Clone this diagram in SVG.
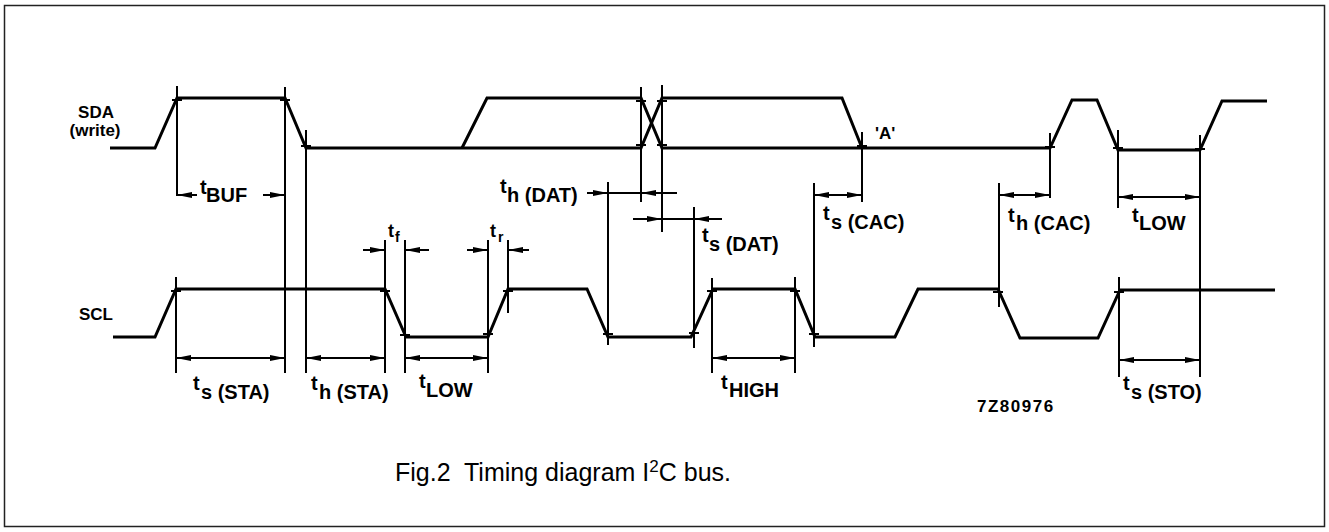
<svg xmlns="http://www.w3.org/2000/svg" width="1329" height="532" viewBox="0 0 1329 532">
<style>
.wave{fill:none;stroke:#000;stroke-width:3;stroke-linejoin:miter}
.dim{fill:none;stroke:#000;stroke-width:2}
.tick{fill:none;stroke:#000;stroke-width:2}
.lbl{font-family:"Liberation Sans",Arial,sans-serif;font-weight:bold;font-size:20px;fill:#000}
.sig{font-family:"Liberation Sans",Arial,sans-serif;font-weight:bold;font-size:17px;fill:#000}
.cap{font-family:"Liberation Sans",Arial,sans-serif;font-size:25px;fill:#000;white-space:pre}
</style>
<defs>
<marker id="ah" viewBox="0 0 15 6" refX="15" refY="3" markerWidth="15" markerHeight="6" markerUnits="userSpaceOnUse" orient="auto-start-reverse"><path d="M0,0 L15,3 L0,6 z" fill="#000"/></marker>
</defs>
<rect x="4.5" y="5.5" width="1320" height="521" fill="#fff" stroke="#222" stroke-width="1.5"/>

<g id="sda">
<path class="wave" d="M110,148 H155 L177,98 H285 L306,148 H641 L662,98 H842 L862,148"/>
<path class="wave" d="M462,148 L487,98 H641 L662,148 H1050 L1072,100 H1097 L1118,150 H1200 L1222,101 H1267"/>
<text class="sig" x="96" y="118" text-anchor="middle">SDA</text>
<text class="sig" x="95" y="136" text-anchor="middle">(write)</text>
<text class="sig" x="875" y="139">'A'</text>
</g>

<g id="scl">
<path class="wave" d="M113,337 H155 L176,289 H385 L406,337 H488 L508,289 H587 L608,337 H691 L713,289 H795 L815,337 H895 L918,289 H998 L1020,338 H1098 L1120,290 H1275"/>
<text class="sig" x="113" y="320" text-anchor="end">SCL</text>
</g>

<g id="connectors">
<path class="dim" d="M177,86V196 M285,87V373 M306,130V373 M641,87V202 M662,85V232 M862,132V202 M814,183V347 M999,183V307 M1050,133V198 M1118,130V208 M1200,135V377 M176,277V373 M385,240V373 M405,240V373 M488,240V373 M508,240V313 M608,182V345 M694,207V348 M712,278V373 M795,277V373 M1119,277V377"/>
<path class="tick" d="M172,100h10 M280,100h10 M301,146h10 M636,101h10 M636,145h10 M657,101h10 M657,145h10 M857,146h10 M1045,147h10 M1113,148h10 M1195,149h10 M171,291h10 M380,291h10 M400,335h10 M483,334h10 M503,291h10 M603,334h10 M689,333h10 M707,291h10 M790,291h10 M809,334h10 M993,292h10 M1114,292h10"/>
<line class="dim" x1="197" y1="195" x2="177" y2="195" marker-end="url(#ah)"/>
<line class="dim" x1="263" y1="195" x2="285" y2="195" marker-end="url(#ah)"/>
<line class="dim" x1="176" y1="358" x2="285" y2="358" marker-start="url(#ah)" marker-end="url(#ah)"/>
<line class="dim" x1="306" y1="358" x2="385" y2="358" marker-start="url(#ah)" marker-end="url(#ah)"/>
<line class="dim" x1="405" y1="358" x2="488" y2="358" marker-start="url(#ah)" marker-end="url(#ah)"/>
<line class="dim" x1="363" y1="250" x2="385" y2="250" marker-end="url(#ah)"/>
<line class="dim" x1="429" y1="250" x2="405" y2="250" marker-end="url(#ah)"/>
<line class="dim" x1="467" y1="250" x2="488" y2="250" marker-end="url(#ah)"/>
<line class="dim" x1="529" y1="250" x2="508" y2="250" marker-end="url(#ah)"/>
<line class="dim" x1="587" y1="193" x2="608" y2="193" marker-end="url(#ah)"/>
<line class="dim" x1="608" y1="193" x2="641" y2="193"/>
<line class="dim" x1="677" y1="193" x2="641" y2="193" marker-end="url(#ah)"/>
<line class="dim" x1="633" y1="219" x2="662" y2="219" marker-end="url(#ah)"/>
<line class="dim" x1="662" y1="219" x2="694" y2="219"/>
<line class="dim" x1="722" y1="219" x2="694" y2="219" marker-end="url(#ah)"/>
<line class="dim" x1="814" y1="195" x2="862" y2="195" marker-start="url(#ah)" marker-end="url(#ah)"/>
<line class="dim" x1="999" y1="195" x2="1050" y2="195" marker-start="url(#ah)" marker-end="url(#ah)"/>
<line class="dim" x1="1118" y1="197" x2="1200" y2="197" marker-start="url(#ah)" marker-end="url(#ah)"/>
<line class="dim" x1="712" y1="358" x2="795" y2="358" marker-start="url(#ah)" marker-end="url(#ah)"/>
<line class="dim" x1="1119" y1="360" x2="1200" y2="360" marker-start="url(#ah)" marker-end="url(#ah)"/>
</g>

<g id="labels">
<text class="lbl"><tspan x="200" y="194">t</tspan><tspan x="206" y="202">BUF</tspan></text>
<text class="lbl"><tspan x="193" y="390">t</tspan><tspan x="201" y="399">s (STA)</tspan></text>
<text class="lbl"><tspan x="311" y="390">t</tspan><tspan x="319" y="399">h (STA)</tspan></text>
<text class="lbl"><tspan x="419" y="388">t</tspan><tspan x="426" y="397">LOW</tspan></text>
<text class="lbl"><tspan x="721" y="389">t</tspan><tspan x="729" y="397">HIGH</tspan></text>
<text class="lbl"><tspan x="1123" y="390">t</tspan><tspan x="1131" y="399">s (STO)</tspan></text>
<text class="lbl"><tspan x="500" y="193">t</tspan><tspan x="507" y="202">h (DAT)</tspan></text>
<text class="lbl"><tspan x="702" y="242">t</tspan><tspan x="709" y="251">s (DAT)</tspan></text>
<text class="lbl"><tspan x="823" y="220">t</tspan><tspan x="831" y="229">s (CAC)</tspan></text>
<text class="lbl"><tspan x="1008" y="222">t</tspan><tspan x="1016" y="230">h (CAC)</tspan></text>
<text class="lbl"><tspan x="1132" y="222">t</tspan><tspan x="1139" y="230">LOW</tspan></text>
<text class="lbl" style="font-size:18px"><tspan x="388" y="237">t</tspan><tspan x="395" y="242" style="font-size:14px">f</tspan></text>
<text class="lbl" style="font-size:18px"><tspan x="490" y="237">t</tspan><tspan x="498" y="242" style="font-size:14px">r</tspan></text>
<text class="lbl" style="font-size:17px;letter-spacing:1.5px" x="977" y="412">7Z80976</text>
</g>

<text class="cap" x="395" y="481">Fig.2  Timing diagram I<tspan dy="-9" style="font-size:17px">2</tspan><tspan dy="9">C bus.</tspan></text>
</svg>
